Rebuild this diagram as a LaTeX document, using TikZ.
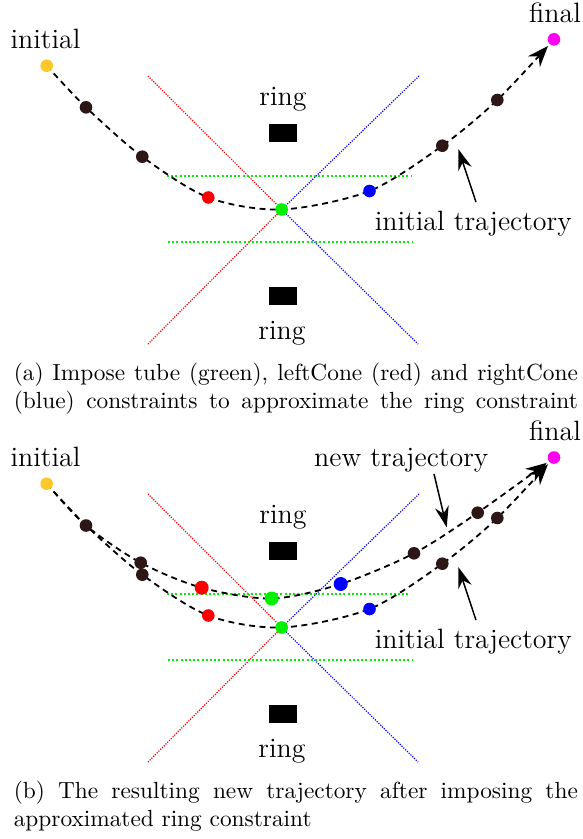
\documentclass[tikz,border=0pt]{standalone}
\usetikzlibrary{arrows.meta}
\definecolor{dotyellow}{RGB}{253,200,40}
\definecolor{dotdark}{RGB}{45,22,22}
\definecolor{dotmag}{RGB}{255,0,240}
\definecolor{dotgreen}{RGB}{0,240,0}
\begin{document}
\begin{tikzpicture}[x=1pt,y=-1pt,
  dot/.style={circle,inner sep=0pt,minimum size=12.6pt,fill=#1},
  bigdot/.style={circle,inner sep=0pt,minimum size=14pt,fill=#1},
  traj/.style={line width=1.8pt,dash pattern=on 6pt off 4.5pt,
    -{Stealth[length=21pt,width=16pt,inset=7pt]},shorten >=9pt},
  lblarrow/.style={line width=1.5pt,-{Stealth[length=21pt,width=14pt,inset=7pt]}},
  cone/.style={line width=1.2pt,dash pattern=on 1.2pt off 1.3pt,draw=#1},
  tube/.style={line width=2pt,dash pattern=on 2pt off 2.2pt,draw=dotgreen},
  ringbox/.style={fill=black},
  lbl/.style={inner sep=0pt,anchor=base,scale=2.33,font=\fontsize{12}{14.4}\selectfont},
  capt/.style={inner sep=0pt,anchor=base west,scale=2.333,font=\fontsize{10}{12}\selectfont}]
\useasboundingbox (0,0) rectangle (582,839);

% ---------- panel (a) ----------
\draw[cone=red] (148,76) -- (281.7,209.5) -- (148,344);
\draw[cone=blue] (419,76) -- (281.7,209.5) -- (418,344);
\draw[tube] (167,176) -- (411,176);
\draw[tube] (168,242.3) -- (413,242.3);
\fill[ringbox] (269.3,124) rectangle (297,141.7);
\fill[ringbox] (269.3,287.3) rectangle (297.3,305);
\node[lbl] (ringAu) at (283,105) {ring};
\node[lbl] (ringAl) at (282,339.3) {ring};
\node[lbl] (iniA) at (45.5,48) {initial};
\node[lbl] (finA) at (555,22.3) {final};
\node[lbl] (itA) at (473.3,230) {initial trajectory};

\coordinate (aY) at (46.7,65.7);
\coordinate (aD1) at (86,107.3);
\coordinate (aD2) at (142.3,156.7);
\coordinate (aR) at (208.3,197.5);
\coordinate (aG) at (281.7,209.5);
\coordinate (aB) at (369.5,191);
\coordinate (aD3) at (442.3,145.7);
\coordinate (aD4) at (497.3,100);
\coordinate (aM) at (554,39.3);
\draw[traj] plot[smooth] coordinates {(aY) (aD1) (aD2) (aR) (aG) (aB) (aD3) (aD4) (aM)};
\node[dot=dotyellow] (dAY) at (aY) {};
\node[dot=dotdark] (dAD1) at (aD1) {};
\node[dot=dotdark] (dAD2) at (aD2) {};
\node[dot=red] (dAR) at (aR) {};
\node[dot=dotgreen] (dAG) at (aG) {};
\node[dot=blue] (dAB) at (aB) {};
\node[dot=dotdark] (dAD3) at (aD3) {};
\node[dot=dotdark] (dAD4) at (aD4) {};
\node[dot=dotmag] (dAM) at (aM) {};
\coordinate (tipA) at (458.3,149);
\draw[lblarrow] ([xshift=2.7pt,yshift=8pt]itA.north) -- (tipA);

\node[capt] (capA) at (13.3,380.5) {\parbox[t]{241.8pt}{%
  \makebox[241.8pt][s]{(a) Impose tube (green), leftCone (red) and rightCone}\\
  \makebox[241.8pt][s]{(blue) constraints to approximate the ring constraint}}};

% ---------- panel (b) ----------
\draw[cone=red] (148,494) -- (281.7,627.5) -- (148,762);
\draw[cone=blue] (419,494) -- (281.7,627.5) -- (418,762);
\draw[tube] (167,594) -- (409,594);
\draw[tube] (168,660.3) -- (413,660.3);
\fill[ringbox] (269.3,542) rectangle (297,559.7);
\fill[ringbox] (269.3,705.3) rectangle (297.3,723);
\node[lbl] (ringBu) at (283,523) {ring};
\node[lbl] (ringBl) at (282,757.3) {ring};
\node[lbl] (iniB) at (45.5,466) {initial};
\node[lbl] (finB) at (555,440.3) {final};
\node[lbl] (itB) at (473.3,648) {initial trajectory};
\node[lbl] (ntB) at (401.3,466.7) {new trajectory};

\coordinate (bY) at (46.7,483.7);
\coordinate (bD1) at (86,525.5);
\coordinate (bD2) at (142.3,574.7);
\coordinate (bR) at (208.3,615.5);
\coordinate (bG) at (281.7,627.5);
\coordinate (bB) at (369.5,609);
\coordinate (bD3) at (442.3,563.7);
\coordinate (bD4) at (497.3,518);
\coordinate (bM) at (554,457.5);
\coordinate (nD2) at (140.7,562.7);
\coordinate (nR) at (201.7,587.7);
\coordinate (nG) at (271.7,598.5);
\coordinate (nB) at (340.7,584);
\coordinate (nD3) at (414,553.3);
\coordinate (nD4) at (477.7,512.7);
\draw[traj] plot[smooth] coordinates {(bY) (bD1) (bD2) (bR) (bG) (bB) (bD3) (bD4) (bM)};
\draw[traj] plot[smooth] coordinates {(bY) (bD1) (nD2) (nR) (nG) (nB) (nD3) (nD4) (bM)};
\node[dot=dotyellow] (dBY) at (bY) {};
\node[dot=dotdark] (dBD1) at (bD1) {};
\node[dot=dotdark] (dBD2) at (bD2) {};
\node[dot=red] (dBR) at (bR) {};
\node[dot=dotgreen] (dBG) at (bG) {};
\node[dot=blue] (dBB) at (bB) {};
\node[dot=dotdark] (dBD3) at (bD3) {};
\node[dot=dotdark] (dBD4) at (bD4) {};
\node[dot=dotmag] (dBM) at (bM) {};
\node[dot=dotdark] (dND2) at (nD2) {};
\node[bigdot=red] (dNR) at (nR) {};
\node[bigdot=dotgreen] (dNG) at (nG) {};
\node[bigdot=blue] (dNB) at (nB) {};
\node[dot=dotdark] (dND3) at (nD3) {};
\node[dot=dotdark] (dND4) at (nD4) {};
\coordinate (tipB) at (458.3,567);
\coordinate (tipN) at (446.7,527.3);
\draw[lblarrow] ([xshift=2.7pt,yshift=8pt]itB.north) -- (tipB);
\draw[lblarrow] ([xshift=32.7pt,yshift=-1pt]ntB.south) -- (tipN);

\node[capt] (capB) at (13.3,798.5) {\parbox[t]{241.8pt}{%
  \makebox[241.8pt][s]{(b) The resulting new trajectory after imposing the}\\
  approximated ring constraint}};
\end{tikzpicture}
\end{document}
